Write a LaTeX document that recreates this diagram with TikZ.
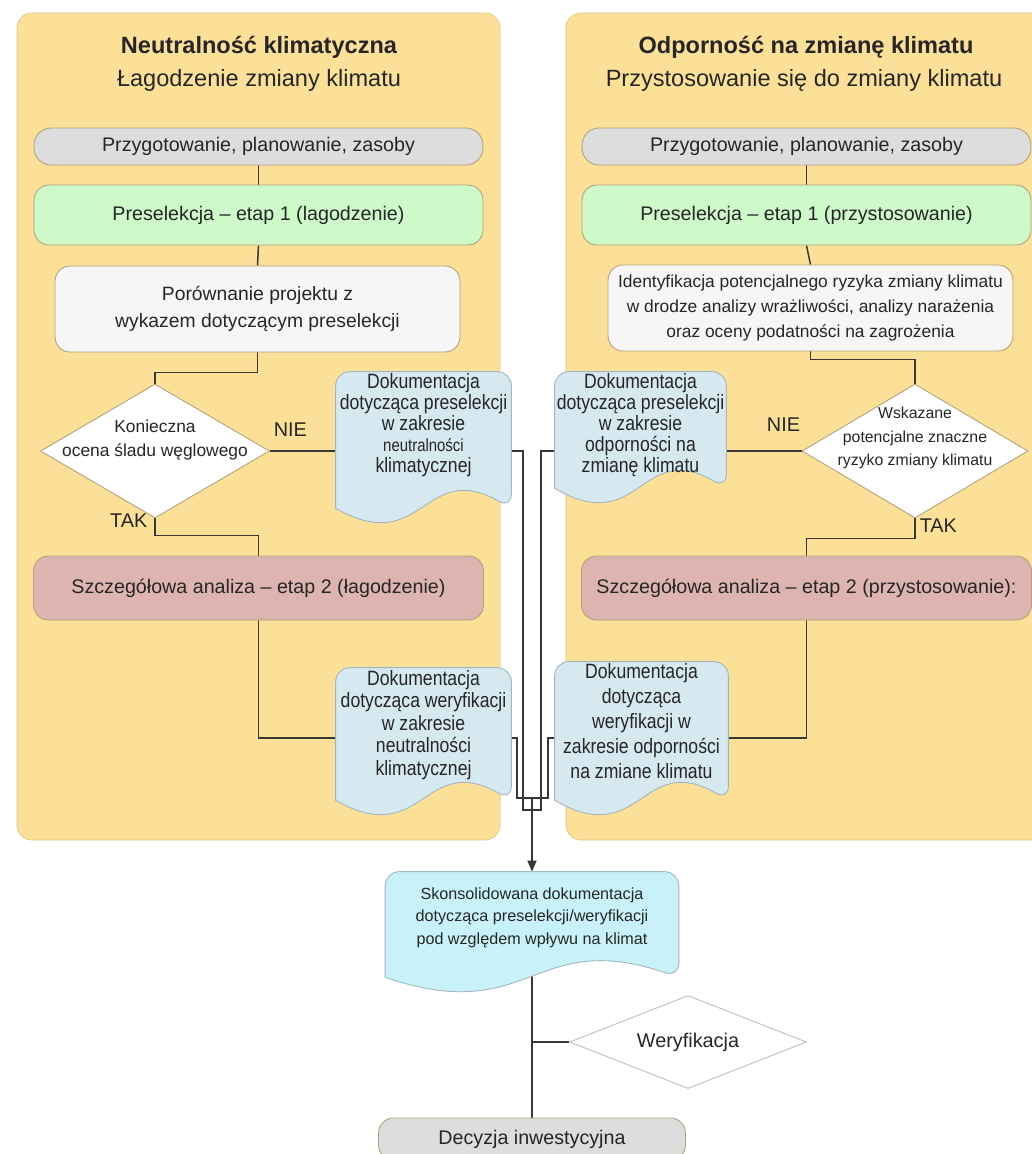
\documentclass[tikz,border=0pt]{standalone}
\usepackage{fontspec}
\setmainfont{Liberation Sans}
\newfontfamily\narrowfont{Liberation Sans}[FakeStretch=0.85]
\usetikzlibrary{shapes.geometric,calc,arrows.meta}
\definecolor{panel}{RGB}{252,224,152}
\definecolor{paneledge}{RGB}{226,198,130}
\definecolor{boxedge}{RGB}{176,162,124}
\definecolor{prepgray}{RGB}{221,221,221}
\definecolor{selgreen}{RGB}{206,250,202}
\definecolor{cmpwhite}{RGB}{246,246,246}
\definecolor{anared}{RGB}{222,180,176}
\definecolor{docblue}{RGB}{214,232,240}
\definecolor{docedge}{RGB}{160,182,192}
\definecolor{conscyan}{RGB}{200,242,248}
\definecolor{wire}{RGB}{55,55,55}
\definecolor{ink}{RGB}{38,38,38}
\pgfdeclarelayer{back}
\pgfdeclarelayer{mid}
\pgfsetlayers{back,mid,main}
\newcommand\fsz[2]{\fontsize{#1}{#2}\selectfont}
% document shape: node, fill, depth of the wave below the node
\newcommand\docshape[3]{%
  \filldraw[fill=#2,draw=docedge,line width=0.5pt,rounded corners=8]
  ($(#1.south west)+(0,#3)$) -- (#1.north west) -- (#1.north east) -- ($(#1.south east)+(0,#3)$)
  [sharp corners] .. controls ($(#1.south)+(0,#3-50)$) and ($(#1.south)+(0,#3+50)$) .. ($(#1.south west)+(0,#3)$) -- cycle;}

\begin{document}
\begin{tikzpicture}
  [x=0.02cm,y=-0.02cm,
   every node/.style={text=ink,inner sep=0pt},
   ttl/.style={font=\fsz{13.4}{16}},
   box/.style={draw=boxedge,line width=0.5pt,align=center,font=\fsz{11.2}{14}},
   prep/.style={box,fill=prepgray,minimum width=8.98cm,minimum height=0.74cm,rounded corners=0.34cm},
   presel/.style={box,fill=selgreen,minimum width=8.98cm,minimum height=1.2cm,rounded corners=0.3cm},
   cmp/.style={box,fill=cmpwhite,minimum width=8.1cm,minimum height=1.72cm,rounded corners=0.3cm},
   anabox/.style={box,fill=anared,minimum width=9cm,minimum height=1.28cm,rounded corners=0.3cm},
   decbox/.style={diamond,draw=boxedge,fill=white,line width=0.5pt},
   doc/.style={align=center,font=\narrowfont\fsz{11.8}{12}},
   yn/.style={font=\fsz{11.3}{13}},
   wire/.style={draw=wire,line width=0.85pt}]
  \useasboundingbox (0,0) rectangle (1032,1154);

  \begin{pgfonlayer}{back}
    \fill[white] (0,0) rectangle (1032,1154);
    \filldraw[fill=panel,draw=paneledge,rounded corners=0.3cm] (17,13) rectangle (500,840);
    \filldraw[fill=panel,draw=paneledge,rounded corners=0.3cm] (566,13) rectangle (1050,840);
  \end{pgfonlayer}

  \node[ttl] (ttlL) at (259,47) {\bfseries Neutralność klimatyczna};
  \node[ttl] (subL) at (259,80) {Łagodzenie zmiany klimatu};
  \node[ttl] (ttlR) at (806,47) {\bfseries Odporność na zmianę klimatu};
  \node[ttl] (subR) at (804,80) {Przystosowanie się do zmiany klimatu};

  \node[prep] (prepL) at (258.5,146.5) {Przygotowanie, planowanie, zasoby};
  \node[presel] (selL) at (258.5,215) {Preselekcja – etap 1 (lagodzenie)};
  \node[cmp,font=\fsz{11}{15.4}] (cmpL) at (257.5,309) {Porównanie projektu z\\wykazem dotyczącym preselekcji};
  \node[decbox,minimum width=4.58cm,minimum height=2.68cm,
    label={[font=\fsz{9.9}{13.7},align=center,yshift=0.22cm]center:{Konieczna\\ocena śladu węglowego}}] (decL) at (155,451) {};
  \node[anabox] (anaL) at (258.5,588) {Szczegółowa analiza – etap 2 (łagodzenie)};

  \node[prep] (prepR) at (806.5,146.5) {Przygotowanie, planowanie, zasoby};
  \node[presel] (selR) at (806.5,215) {Preselekcja – etap 1 (przystosowanie)};
  \node[cmp,font=\fsz{9.9}{14.5}] (idR) at (810.5,308) {Identyfikacja potencjalnego ryzyka zmiany klimatu\\w drodze analizy wrażliwości, analizy narażenia\\oraz oceny podatności na zagrożenia};
  \node[decbox,minimum width=4.52cm,minimum height=2.68cm,
    label={[font=\fsz{9}{13.5},align=center,yshift=0.26cm]center:{Wskazane\\potencjalne znaczne\\ryzyko zmiany klimatu}}] (decR) at (915,451) {};
  \node[anabox] (anaR) at (806.5,588) {Szczegółowa analiza – etap 2 (przystosowanie):};

  \node[doc,minimum width=3.5cm,minimum height=2.12cm] (docL1) at (423.5,425)
    {Dokumentacja\\dotycząca preselekcji\\w zakresie\\{\fsz{10}{12}neutralności}\\klimatycznej};
  \node[doc,minimum width=3.5cm,minimum height=2.28cm,font={\narrowfont\fsz{11.8}{12.8}}] (docL2) at (423.5,725)
    {Dokumentacja\\dotycząca weryfikacji\\w zakresie\\neutralności\\klimatycznej};
  \node[doc,minimum width=3.42cm,minimum height=2.12cm] (docR1) at (640.5,425)
    {Dokumentacja\\dotycząca preselekcji\\w zakresie\\odporności na\\zmianę klimatu};
  \node[doc,minimum width=3.46cm,minimum height=2.36cm,font={\narrowfont\fsz{11.8}{14.2}}] (docR2) at (641.5,721)
    {Dokumentacja\\dotycząca\\weryfikacji w\\zakresie odporności\\na zmiane klimatu};

  \node[align=center,minimum width=5.86cm,minimum height=1.82cm,font=\fsz{9.2}{12.8}] (cons) at (532,917.5)
    {Skonsolidowana dokumentacja\\dotycząca preselekcji/weryfikacji\\pod względem wpływu na klimat};
  \node[decbox,draw=black!25,aspect=2.55,minimum width=4.74cm,minimum height=1.86cm,font=\fsz{11.3}{13}] (wer) at (688,1042) {Weryfikacja};
  \node[prep,minimum width=6.14cm,minimum height=0.84cm,rounded corners=0.3cm] (invest) at (532,1139) {Decyzja inwestycyjna};

  \coordinate (jL1) at (523,810);
  \coordinate (jR1) at (541,810);
  \coordinate (jL2) at (517,798);
  \coordinate (jR2) at (548,798);
  \coordinate (hub) at (532,798);

  \begin{pgfonlayer}{mid}
    \foreach \from/\to in {prepL/selL,selL/cmpL,prepR/selR,selR/idR}
      \draw[wire] (\from.south) -- (\to.north);
    \draw[wire] (cmpL.south) -- ++(0,20) -| (decL.north);
    \draw[wire] (idR.south) -- ++(0,8) -| (decR.north);
    \draw[wire] (decL.east) -- node[yn,pos=0.31,above=8pt] (nieL) {NIE} (decL.east -| docL1.west);
    \draw[wire] (decR.west) -- node[yn,pos=0.24,above=10.5pt] (nieR) {NIE} (decR.west -| docR1.east);
    \draw[wire] (decL.south) node[yn,anchor=north east,xshift=-0.14cm,yshift=0.1cm] (takL) {TAK}
      -- ++(0,17) -| (anaL.north);
    \draw[wire] (decR.south) node[yn,anchor=north west,xshift=0.08cm] (takR) {TAK}
      -- ++(0,20) -| (anaR.north);
    \draw[wire] (anaL.south) |- ($(docL2.west)+(0,13)$);
    \draw[wire] (anaR.south) |- ($(docR2.east)+(0,17)$);

    \draw[wire] (decL.east -| docL1.east) -| (jL1) -- (jR1) |- (decR.west -| docR1.west);
    \draw[wire] ($(docL2.east)+(0,13)$) -| (jL2) -- (jR2) |- ($(docR2.west)+(0,17)$);
    \draw[wire,-{Triangle[length=0.22cm,width=0.18cm]}] (hub) -- (cons.north);
    \draw[wire] (cons.south) -- (invest.north);
    \draw[wire] (cons.south |- wer.west) -- (wer.west);

    \docshape{docL1}{docblue}{30}
    \docshape{docL2}{docblue}{18}
    \docshape{docR1}{docblue}{10}
    \docshape{docR2}{docblue}{20}
    \docshape{cons}{conscyan}{14}
  \end{pgfonlayer}
\end{tikzpicture}
\end{document}
